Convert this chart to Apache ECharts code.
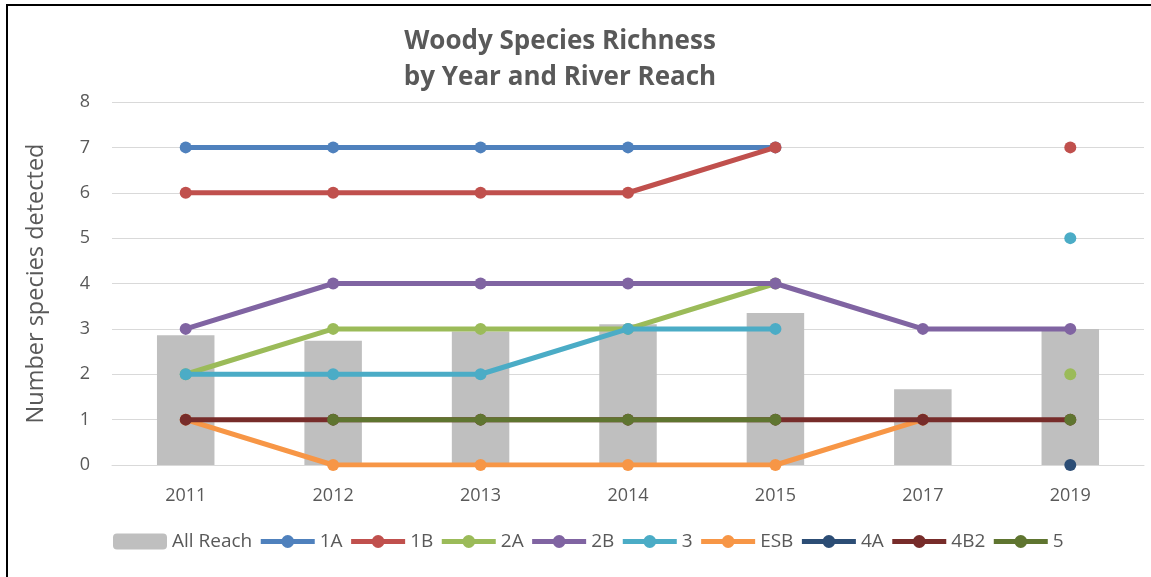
<!DOCTYPE html>
<html>
<head>
<meta charset="utf-8">
<script src="https://cdn.jsdelivr.net/npm/echarts@6/dist/echarts.min.js"></script>
<style>
    html, body { margin: 0; padding: 0; background: #fff; }
    #chart { width: 1151px; height: 577px; }
</style>
</head>
<body>
<div id="chart"></div>
<script>
    var years = ['2011', '2012', '2013', '2014', '2015', '2017', '2019'];
    var yTicks = [0, 1, 2, 3, 4, 5, 6, 7, 8];

    // All Reach bars
    var allReach = [2.86, 2.74, 2.94, 3.1, 3.35, 1.67, 3.0];

    // per reach values, null = not sampled
    var r1A = [7, 7, 7, 7, 7, null, null];
    var r1B = [6, 6, 6, 6, 7, null, 7];
    var r2A = [2, 3, 3, 3, 4, null, 2];
    var r2B = [3, 4, 4, 4, 4, 3, 3];
    var r3 = [2, 2, 2, 3, 3, null, 5];
    var rESB = [1, 0, 0, 0, 0, 1, null];
    var r4A = [null, null, null, null, null, null, 0];
    var r4B2 = [1, 1, 1, 1, 1, 1, 1];
    var r5 = [null, 1, 1, 1, 1, null, 1];

    var reachNames = ['1A', '1B', '2A', '2B', '3', 'ESB', '4A', '4B2', '5'];
    var reachData = [r1A, r1B, r2A, r2B, r3, rESB, r4A, r4B2, r5];
    var reachColors = ['#4F81BD', '#C0504D', '#9BBB59', '#8064A2', '#4BACC6', '#F79646', '#2C4D75', '#772C2A', '#5F7530'];

    var txt = '#595959';
    var font = 'Open Sans';

    function _each(arr, fn) {
        for (var i = 0; i < arr.length; i++) fn(arr[i], i);
    }

    var series = [{
        name: 'All Reach',
        type: 'bar',
        data: allReach,
        barWidth: '39%',
        itemStyle: { color: '#BFBFBF' },
        z: 1
    }];
    // lines drawn in order so the later reach sits on top
    _each(reachNames, function (name, i) {
        series.push({
            name: name,
            type: 'line',
            data: reachData[i],
            connectNulls: false,
            symbol: 'circle',
            symbolSize: 12,
            lineStyle: { width: 5, color: reachColors[i] },
            itemStyle: { color: reachColors[i] },
            z: 2 + i
        });
    });

    var chart = echarts.init(document.getElementById('chart'));
    chart.setOption({
        animation: false,
        backgroundColor: '#fff',
        title: {
            text: 'Woody Species Richness\nby Year and River Reach',
            left: 555,
            top: 19,
            textAlign: 'center',
            textStyle: {
                fontFamily: font,
                fontSize: 26,
                fontWeight: 'bold',
                color: txt,
                lineHeight: 36
            }
        },
        graphic: [{
            type: 'rect',
            shape: { x: 7, y: 5, width: 1300, height: 800 },
            style: { fill: 'none', stroke: '#000', lineWidth: 2 },
            silent: true
        }],
        legend: {
            bottom: 21,
            left: 108,
            itemGap: 6,
            itemWidth: 54,
            itemHeight: 16,
            lineStyle: { width: 5 },
            textStyle: { fontFamily: font, fontSize: 19, color: txt },
            data: ['All Reach'].concat(reachNames)
        },
        grid: {
            left: 112,
            right: 7,
            top: 102,
            bottom: 112
        },
        xAxis: {
            type: 'category',
            data: years,
            axisTick: { show: false },
            axisLine: { lineStyle: { color: '#d9d9d9' } },
            axisLabel: { fontFamily: font, fontSize: 18, color: txt, margin: 22 }
        },
        yAxis: {
            type: 'value',
            min: yTicks[0],
            max: yTicks[yTicks.length - 1],
            interval: 1,
            name: 'Number species detected',
            nameLocation: 'middle',
            nameGap: 64,
            nameTextStyle: { fontFamily: font, fontSize: 23.5, color: txt },
            axisLine: { show: false },
            axisTick: { show: false },
            axisLabel: { fontFamily: font, fontSize: 18, color: txt, margin: 22 },
            splitLine: { lineStyle: { color: '#d9d9d9' } }
        },
        series: series
    });
</script>
</body>
</html>
